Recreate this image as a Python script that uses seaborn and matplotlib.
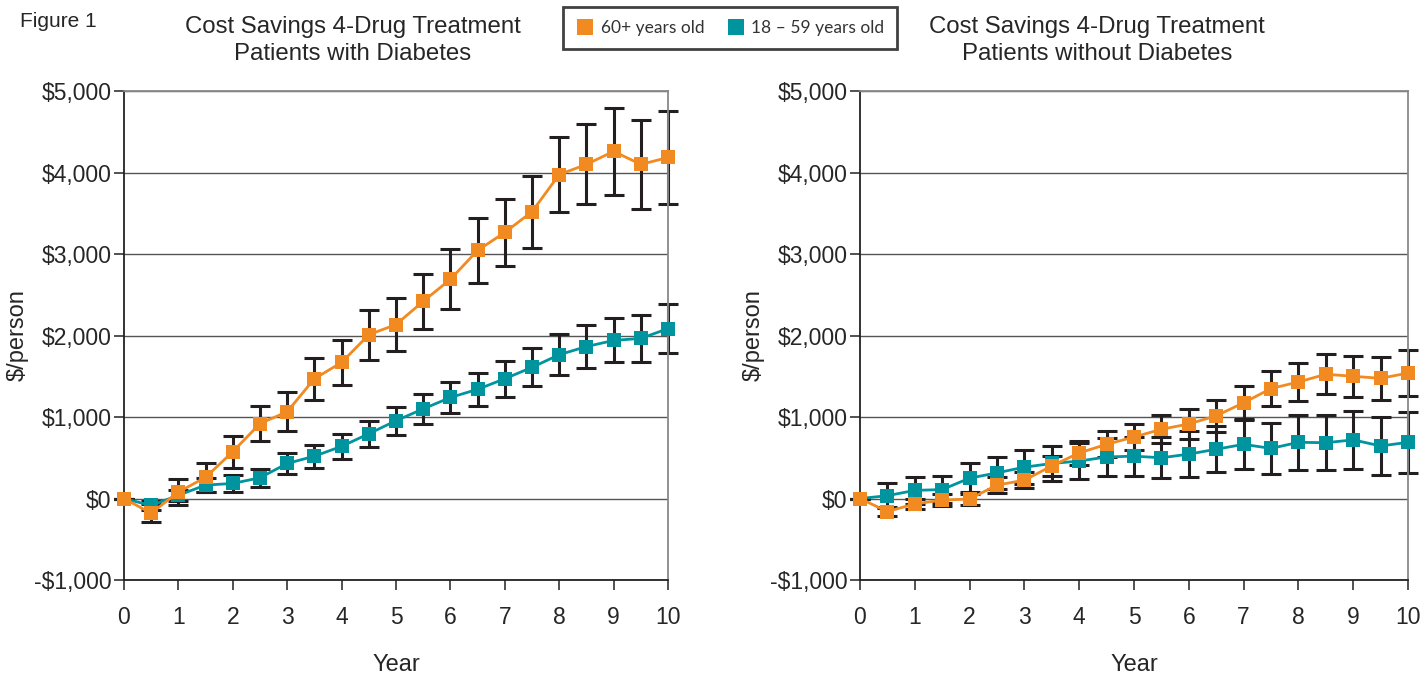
import pandas as pd
import seaborn as sns
import matplotlib.pyplot as plt
from matplotlib.ticker import FuncFormatter, MultipleLocator
from matplotlib.lines import Line2D

sns.set_theme(style="white")
plt.rcParams['font.family'] = ['Liberation Sans', 'DejaVu Sans']

# datos
years = [0, 0.5, 1, 1.5, 2, 2.5, 3, 3.5, 4, 4.5, 5, 5.5, 6, 6.5, 7, 7.5, 8, 8.5, 9, 9.5, 10]

diab_old = [0, -180, 80, 260, 575, 920, 1065, 1470, 1670, 2010, 2135, 2420, 2690, 3045, 3265, 3520, 3975, 4100, 4260, 4100, 4185]
diab_old_err = [0, 110, 165, 180, 197, 215, 240, 260, 278, 305, 320, 338, 370, 395, 412, 442, 465, 490, 530, 545, 575]
diab_young = [0, -85, 40, 165, 185, 255, 430, 520, 640, 795, 955, 1100, 1240, 1340, 1470, 1610, 1765, 1865, 1940, 1965, 2085]
diab_young_err = [0, 60, 70, 90, 105, 110, 130, 140, 150, 160, 170, 180, 190, 205, 220, 235, 250, 260, 270, 285, 300]

nodiab_old = [0, -160, -65, -20, -5, 165, 225, 400, 560, 665, 755, 850, 915, 1015, 1175, 1350, 1430, 1525, 1500, 1475, 1540]
nodiab_old_err = [0, 50, 60, 70, 80, 100, 100, 120, 150, 160, 160, 170, 180, 195, 200, 220, 230, 245, 255, 260, 280]
nodiab_young = [0, 35, 100, 110, 250, 315, 385, 430, 460, 510, 520, 500, 545, 605, 665, 615, 690, 685, 720, 645, 690]
nodiab_young_err = [0, 150, 170, 170, 190, 200, 210, 215, 225, 235, 240, 250, 280, 285, 300, 310, 340, 340, 355, 360, 375]

groups = ["60+ years old", "18 \u2013 59 years old"]
orange = '#F18A21'
teal = '#00949E'
colors = {groups[0]: orange, groups[1]: teal}


def money(v, pos):
    if v < 0:
        return f"-${abs(v):,.0f}"
    return f"${v:,.0f}"


def draw(ax, old, old_err, young, young_err):
    df = pd.DataFrame({
        'year': years + years,
        'value': old + young,
        'group': [groups[0]] * len(years) + [groups[1]] * len(years),
    })
    # barras de error primero (quedan debajo de los marcadores)
    for vals, err in [(young, young_err), (old, old_err)]:
        eb = ax.errorbar(years, vals, yerr=err, fmt='none', ecolor='#231f20',
                         elinewidth=2.2, capsize=7, capthick=2.2, zorder=2)
        for art in eb.lines[1] + eb.lines[2]:
            art.set_clip_on(False)
    sns.lineplot(data=df, x='year', y='value', hue='group',
                 hue_order=[groups[1], groups[0]], palette=colors,
                 marker='s', markersize=10, markeredgewidth=0, linewidth=2,
                 errorbar=None, legend=False, ax=ax, zorder=3, clip_on=False)
    ax.set_xlim(0, 10)
    ax.set_ylim(-1000, 5000)
    ax.xaxis.set_major_locator(MultipleLocator(1))
    ax.yaxis.set_major_locator(MultipleLocator(1000))
    ax.yaxis.set_major_formatter(FuncFormatter(money))
    ax.yaxis.grid(True, color='#555555', linewidth=1)
    ax.set_axisbelow(True)
    for s in ['left', 'bottom']:
        ax.spines[s].set_color('#222222')
        ax.spines[s].set_linewidth(1.3)
    for s in ['top', 'right']:
        ax.spines[s].set_color('#888888')
        ax.spines[s].set_linewidth(1.3)
    ax.tick_params(bottom=True, left=True, direction='out', length=7,
                   width=1.2, color='#333333', labelsize=16.5)
    ax.tick_params(axis='y', pad=2)
    ax.tick_params(axis='x', pad=12)
    ax.set_xlabel("Year", fontsize=17, labelpad=18)
    ax.set_ylabel("$/person", fontsize=17, labelpad=4)


fig = plt.figure(figsize=(14.25, 6.75), dpi=100)
ax1 = fig.add_axes([0.087, 0.1407, 0.3818, 0.7244])
ax2 = fig.add_axes([0.6035, 0.1407, 0.3846, 0.7244])

draw(ax1, diab_old, diab_old_err, diab_young, diab_young_err)
draw(ax2, nodiab_old, nodiab_old_err, nodiab_young, nodiab_young_err)

fig.text(0.2477, 0.94, "Cost Savings 4-Drug Treatment\nPatients with Diabetes",
         ha='center', va='center', fontsize=17.3, linespacing=1.25)
fig.text(0.770, 0.94, "Cost Savings 4-Drug Treatment\nPatients without Diabetes",
         ha='center', va='center', fontsize=17.3, linespacing=1.25)
fig.text(0.014, 0.968, "Figure 1", ha='left', va='center', fontsize=15,
         family=['Liberation Sans Narrow', 'Liberation Sans', 'DejaVu Sans'])

handles = [Line2D([], [], linestyle='none', marker='s', markersize=12,
                  markerfacecolor=colors[g], markeredgewidth=0) for g in groups]
leg = fig.legend(handles, groups, loc='center', bbox_to_anchor=(0.5125, 0.9585),
                 ncol=2, frameon=True, fancybox=False, handletextpad=0.4,
                 columnspacing=1.3, borderpad=0.75, handlelength=1.0,
                 prop={'family': ['Lato', 'DejaVu Sans'], 'size': 12.5})
leg.get_frame().set_edgecolor('#111111')
leg.get_frame().set_linewidth(2)
for t in leg.get_texts():
    t.set_color('#333333')

plt.savefig("out.png", dpi=100)
